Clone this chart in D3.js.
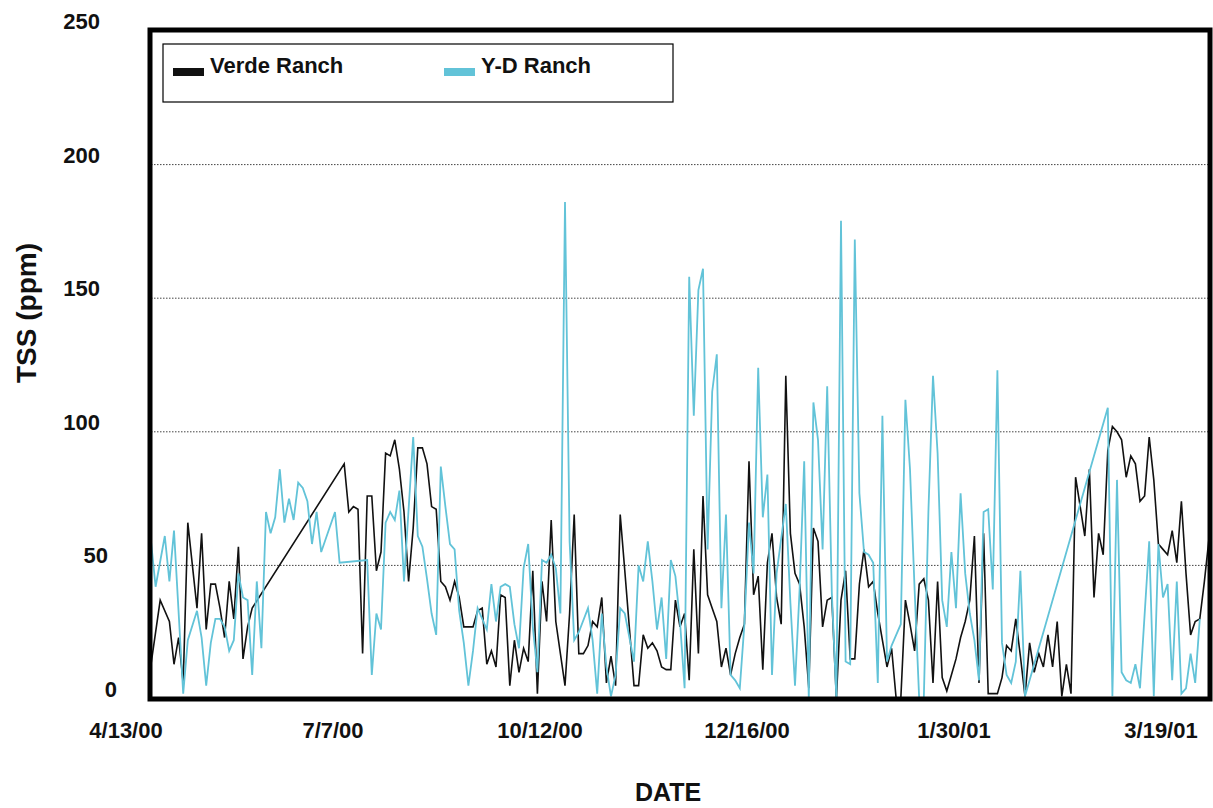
<!DOCTYPE html>
<html>
<head>
<meta charset="utf-8">
<script src="https://cdn.jsdelivr.net/npm/d3@7"></script>
<style>
  html, body { margin: 0; padding: 0; background: #fff; }
  svg { display: block; }
  text { font-family: "Liberation Sans", Arial, sans-serif; font-weight: bold; fill: #111; }
</style>
</head>
<body>
<svg id="chart" width="1213" height="808"></svg>
<script>
// ---------------- DATA ----------------
const seriesNames = ["Verde Ranch", "Y-D Ranch"];
const dateLabels = ["4/13/00", "7/7/00", "10/12/00", "12/16/00", "1/30/01", "3/19/01"];
const labelInterval = 45;           // one date label every 45 sampling rows
const rowCount = 231;               // sampling rows on the category axis
const yTicks = [0, 50, 100, 150, 200, 250];

// TSS (ppm) per sampling row; null = no sample (line joins across)
const verde = [
  13,null,37,null,29,13,23,6,66,null, 34,62,26,43,43,34,23,44,30,57,
  15,27,34,null,null,null,null,null,null,null, null,null,null,null,null,null,null,null,null,null,
  null,null,88,70,72,71,17,76,76,48, 55,92,91,97,86,70,44,64,94,94,
  88,72,71,44,42,37,44,38,27,27, 27,33,34,13,18,12,39,38,5,22,
  10,19,14,48,2,44,29,67,29,17, 5,32,69,17,17,20,29,27,38,6,
  16,5,69,48,null,5,5,24,19,21, 18,12,11,11,37,27,32,7,56,17,
  76,39,34,29,12,19,9,17,23,28, 89,39,46,11,51,62,38,28,121,62,
  47,43,27,4,64,59,27,37,38,0, 37,48,15,15,43,56,42,44,32,22,
  12,19,0,0,37,28,18,43,45,37, 6,44,8,3,9,15,23,29,37,61,
  6,62,2,2,2,8,20,18,30,16, 1,21,10,17,12,24,12,29,1,13,
  2,83,null,61,86,38,62,54,93,102, 100,97,83,91,88,74,76,98,82,58,
  56,54,63,51,74,47,24,29,30,44, 60
];
const ydRanch = [
  59,42,null,61,44,63,null,2,22,null, 33,23,5,21,30,30,27,18,22,47,
  38,37,9,44,19,70,62,68,86,66, 75,67,81,79,74,58,70,55,null,null,
  70,51,null,null,null,null,null,52,9,32, 26,66,70,67,78,44,null,98,61,57,
  45,32,24,87,72,58,56,33,21,5, 18,34,null,26,43,29,42,43,42,28,
  19,49,58,27,10,52,51,54,49,32, 186,59,22,25,null,34,22,2,32,12,
  1,9,34,32,null,14,50,44,59,44, 26,38,15,52,46,29,4,158,106,153,
  161,56,115,129,34,69,9,7,4,28, 66,47,124,68,84,9,47,null,73,36,
  5,41,89,0,111,97,56,117,40,0, 179,14,13,172,77,55,54,51,6,106,
  14,20,24,28,112,86,41,0,0,70, 121,92,37,27,55,34,77,47,32,22,
  7,70,71,41,123,21,9,6,14,48, 1,null,null,null,null,null,null,null,null,null,
  null,null,null,null,null,null,null,null,109,1, 82,10,7,6,13,4,null,59,1,58,
  38,43,7,44,2,4,17,6,30,null, null
];
const seriesValues = [verde, ydRanch];

// ---------------- STYLE ----------------
const colors = ["#111111", "#62c3d8"];
const lineWidths = [1.6, 1.8];
const plot = { left: 151, right: 1209, top: 31, bottom: 699 };
const yLabelShift = { 0: 17, 50: 8 };

// ---------------- DRAW ----------------
const svg = d3.select("#chart");

const x = d3.scaleLinear().domain([0, rowCount - 1]).range([plot.left, plot.right]);
const y = d3.scaleLinear().domain([0, 250]).range([plot.bottom, plot.top]);

// gridlines (dotted)
svg.append("g").selectAll("line")
  .data(yTicks.filter(t => t > 0 && t < 250))
  .join("line")
  .attr("x1", plot.left).attr("x2", plot.right)
  .attr("y1", d => y(d)).attr("y2", d => y(d))
  .attr("stroke", "#444").attr("stroke-width", 1)
  .attr("stroke-dasharray", "1.5,1.5");

// series lines
const line = d3.line().x(d => x(d.i)).y(d => y(d.v));
seriesValues.forEach((vals, k) => {
  const pts = vals.map((v, i) => ({ i, v })).filter(d => d.v !== null);
  svg.append("path")
    .datum(pts)
    .attr("fill", "none")
    .attr("stroke", colors[k])
    .attr("stroke-width", lineWidths[k])
    .attr("stroke-linejoin", "miter")
    .attr("d", line);
});

// frame
svg.append("rect")
  .attr("x", 150).attr("y", y(250) - 1)
  .attr("width", 1210 - 150).attr("height", plot.bottom - y(250) + 1)
  .attr("fill", "none").attr("stroke", "#000").attr("stroke-width", 5);

// y tick labels
svg.append("g").selectAll("text")
  .data(yTicks)
  .join("text")
  .attr("x", d => 100 + (yLabelShift[d] || 0))
  .attr("y", d => y(d) - 2)
  .attr("text-anchor", "end")
  .attr("font-size", 22)
  .text(d => d);

// x tick labels
svg.append("g").selectAll("text")
  .data(dateLabels)
  .join("text")
  .attr("x", (d, i) => x(i * labelInterval) - 25)
  .attr("y", 738)
  .attr("text-anchor", "middle")
  .attr("font-size", 22)
  .text(d => d);

// axis titles
svg.append("text")
  .attr("x", 668).attr("y", 801)
  .attr("text-anchor", "middle")
  .attr("font-size", 25)
  .text("DATE");

svg.append("text")
  .attr("transform", "translate(36,313) rotate(-90)")
  .attr("text-anchor", "middle")
  .attr("font-size", 28)
  .text("TSS (ppm)");

// legend
const lg = svg.append("g");
lg.append("rect")
  .attr("x", 163).attr("y", 44).attr("width", 510).attr("height", 58)
  .attr("fill", "#fff").attr("stroke", "#000").attr("stroke-width", 1.2);
const legendX = [173, 444];
seriesNames.forEach((name, k) => {
  lg.append("rect")
    .attr("x", legendX[k]).attr("y", 68).attr("width", 31).attr("height", 8)
    .attr("fill", colors[k]);
  lg.append("text")
    .attr("x", legendX[k] + 37).attr("y", 73)
    .attr("font-size", 22)
    .text(name);
});
</script>
</body>
</html>
